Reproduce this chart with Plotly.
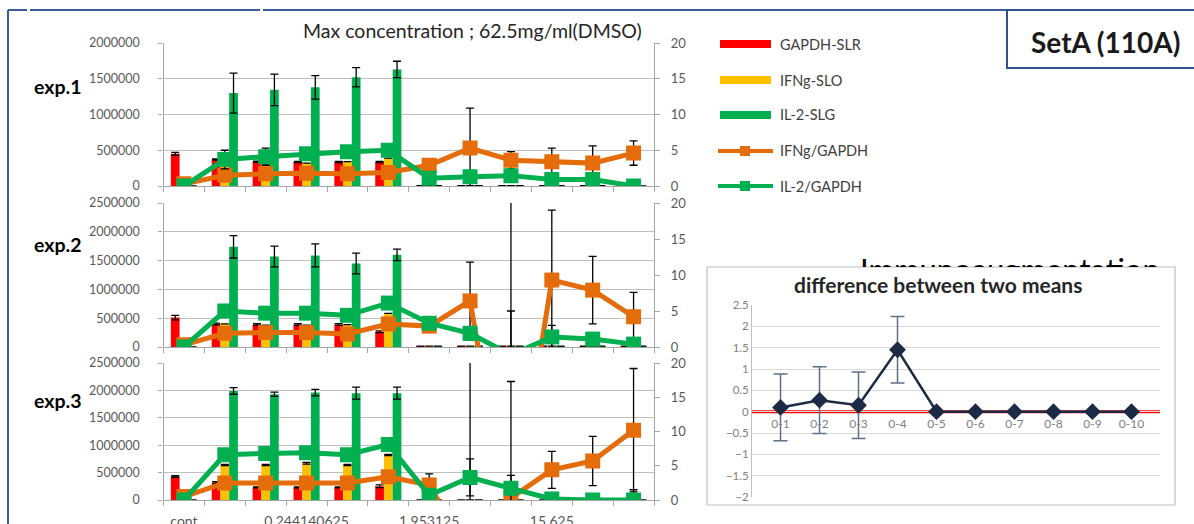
import plotly.graph_objects as go

W, H = 1194, 524


def px(x):
    return x / W


def py(y):
    return 1 - y / H


FONT = "Lato, 'Open Sans', Arial, sans-serif"
TICK = "#595959"
GRID = "#BFBFBF"
AXIS = "#A6A6A6"
RED, YEL, GRN, ORG = "#FF0000", "#FFC000", "#00B050", "#E46C0A"
FRAME = "#3A5D96"

# ---------------- data ----------------
categories = ["cont", "0.06103515625", "0.1220703125", "0.244140625", "0.48828125",
              "0.9765625", "1.953125", "3.90625", "7.8125", "15.625", "31.25", "62.5"]
tick_text = ["cont", "", "", "0.244140625", "", "", "1.953125", "", "", "15.625", "", ""]

exp1_gapdh = [450000, 370000, 340000, 336000, 336000, 336000, 0, 0, 0, 0, 0, 0]
exp1_gapdh_err = [20000, 8000, 8000, 8000, 8000, 8000, 4000, 4000, 4000, 4000, 4000, 0]
exp1_ifng = [0, 300000, 310000, 320000, 340000, 390000, 0, 0, 0, 0, 0, 0]
exp1_ifng_err = [0, 0, 0, 0, 0, 0, 4000, 4000, 4000, 4000, 4000, 0]
exp1_il2 = [0, 1300000, 1345000, 1380000, 1520000, 1630000, 0, 0, 0, 0, 0, 0]
exp1_il2_err = [0, 280000, 220000, 165000, 135000, 115000, 4000, 4000, 4000, 4000, 4000, 0]
exp1_ifng_ratio = [0.3, 1.5, 1.7, 1.8, 1.7, 1.9, 2.9, 5.3, 3.6, 3.4, 3.2, 4.6]
exp1_ifng_ratio_err = [0, 0, 0, 0, 0, 0, 0, 5.6, 1.2, 1.9, 2.4, 1.7]
exp1_il2_ratio = [0, 3.7, 4.1, 4.5, 4.8, 5.0, 1.1, 1.3, 1.45, 0.9, 0.9, 0]
exp1_il2_ratio_err = [0, 1.3, 1.2, 0, 0, 0, 0, 0, 0, 0, 0, 0.9]

exp2_gapdh = [510000, 400000, 390000, 390000, 390000, 266000, 15000, 15000, 15000, 15000, 15000, 15000]
exp2_gapdh_err = [40000, 15000, 15000, 15000, 15000, 15000, 0, 0, 0, 0, 0, 0]
exp2_ifng = [0, 400000, 380000, 380000, 390000, 585000, 15000, 15000, 15000, 15000, 15000, 15000]
exp2_ifng_err = [0, 0, 0, 0, 0, 0, 0, 0, 0, 0, 0, 0]
exp2_il2 = [0, 1740000, 1570000, 1590000, 1450000, 1600000, 15000, 15000, 15000, 15000, 15000, 15000]
exp2_il2_err = [0, 195000, 180000, 200000, 180000, 100000, 0, 0, 0, 0, 0, 0]
exp2_ifng_ratio = [0.3, 1.9, 2.0, 2.0, 1.8, 3.2, 2.9, 6.4, -26, 9.3, 7.9, 4.2]
exp2_ifng_ratio_err = [0, 0, 0, 0, 0, 0, 0, 5.4, 31, 9.7, 4.7, 3.4]
exp2_il2_ratio = [0, 5.0, 4.7, 4.7, 4.4, 6.1, 3.3, 1.9, -1.1, 1.4, 1.1, 0.4]
exp2_il2_ratio_err = [0, 0.7, 0.6, 0.6, 0.8, 0, 0, 0.9, 25, 1.6, 0, 0]

exp3_gapdh = [430000, 320000, 230000, 230000, 230000, 250000, 0, 0, 0, 0, 0, 0]
exp3_gapdh_err = [15000, 15000, 10000, 10000, 10000, 25000, 0, 0, 0, 0, 0, 0]
exp3_ifng = [0, 640000, 640000, 670000, 640000, 820000, 0, 0, 0, 0, 0, 0]
exp3_ifng_err = [0, 10000, 10000, 15000, 10000, 10000, 0, 0, 0, 0, 0, 0]
exp3_il2 = [0, 1990000, 1930000, 1960000, 1950000, 1950000, 0, 0, 0, 0, 0, 0]
exp3_il2_err = [0, 60000, 40000, 60000, 110000, 110000, 0, 0, 0, 0, 0, 0]
exp3_ifng_ratio = [0.5, 2.5, 2.5, 2.5, 2.5, 3.4, 2.2, -8, 0.3, 4.4, 5.7, 10.2]
exp3_ifng_ratio_err = [0, 0, 0, 0, 0, 0, 1.6, 30, 17, 2.7, 3.6, 9.0]
exp3_il2_ratio = [0, 6.6, 6.8, 6.9, 6.6, 8.1, 0.7, 3.3, 1.7, 0.15, 0, 0]
exp3_il2_ratio_err = [0, 0, 0, 0, 0, 0, 0, 2.7, 1.9, 0, 0.35, 1.5]

left_max = [2000000, 2500000, 2500000]
exp_labels = ["exp.1", "exp.2", "exp.3"]

diff_labels = ["0-1", "0-2", "0-3", "0-4", "0-5", "0-6", "0-7", "0-8", "0-9", "0-10"]
diff_means = [0.1, 0.27, 0.15, 1.45, 0, 0, 0, 0, 0, 0]
diff_err = [0.78, 0.78, 0.78, 0.78, 0, 0, 0, 0, 0, 0]

series_names = ["GAPDH-SLR", "IFNg-SLO", "IL-2-SLG", "IFNg/GAPDH", "IL-2/GAPDH"]

experiments = [
    (exp1_gapdh, exp1_gapdh_err, exp1_ifng, exp1_ifng_err, exp1_il2, exp1_il2_err,
     exp1_ifng_ratio, exp1_ifng_ratio_err, exp1_il2_ratio, exp1_il2_ratio_err),
    (exp2_gapdh, exp2_gapdh_err, exp2_ifng, exp2_ifng_err, exp2_il2, exp2_il2_err,
     exp2_ifng_ratio, exp2_ifng_ratio_err, exp2_il2_ratio, exp2_il2_ratio_err),
    (exp3_gapdh, exp3_gapdh_err, exp3_ifng, exp3_ifng_err, exp3_il2, exp3_il2_err,
     exp3_ifng_ratio, exp3_ifng_ratio_err, exp3_il2_ratio, exp3_il2_ratio_err),
]

# panel pixel geometry (top, bottom)
panels = [(43, 186), (203, 347), (363, 500)]
PX0, PX1 = 163.5, 654

fig = go.Figure()
layout_axes = {}


def err(arr, thick=1.3, width=4, color="black"):
    return dict(type="data", array=arr, visible=True, color=color, thickness=thick, width=width)


for i, data in enumerate(experiments):
    g, ge, f, fe, l2, l2e, fr, fre, lr, lre = data
    xa = "x" if i == 0 else f"x{i + 1}"
    yl = "y" if i == 0 else f"y{2 * i + 1}"
    yr = f"y{2 * i + 2}"
    for vals, errs, col, nm in [(g, ge, RED, series_names[0]), (f, fe, YEL, series_names[1]),
                                (l2, l2e, GRN, series_names[2])]:
        fig.add_trace(go.Bar(x=categories, y=vals, error_y=err(errs), marker=dict(color=col, line=dict(width=0)),
                             name=nm, showlegend=False, xaxis=xa, yaxis=yl))
    for vals, errs, col, nm in [(fr, fre, ORG, series_names[3]), (lr, lre, GRN, series_names[4])]:
        fig.add_trace(go.Scatter(x=categories, y=vals, mode="lines+markers", name=nm, showlegend=False,
                                 line=dict(color=col, width=5),
                                 marker=dict(symbol="square", size=15, color=col),
                                 error_y=err(errs), xaxis=xa, yaxis=yr))
    top, bot = panels[i]
    xkey = "xaxis" if i == 0 else f"xaxis{i + 1}"
    ylkey = "yaxis" if i == 0 else f"yaxis{2 * i + 1}"
    yrkey = f"yaxis{2 * i + 2}"
    layout_axes[xkey] = dict(domain=[px(PX0), px(PX1)], anchor=yl, type="category",
                             categoryorder="array", categoryarray=categories,
                             tickmode="array", tickvals=categories,
                             ticktext=tick_text if i == 2 else [""] * len(categories),
                             showticklabels=(i == 2), ticks="outside", tickson="boundaries",
                             ticklen=5, tickcolor=AXIS, tickwidth=1.3, tickangle=0, automargin=False,
                             showline=True, linecolor=AXIS, linewidth=1.3, showgrid=False,
                             ticklabelstandoff=8,
                             tickfont=dict(family=FONT, size=14, color=TICK), range=[-0.5, 11.5])
    layout_axes[ylkey] = dict(domain=[py(bot), py(top)], anchor=xa, range=[0, left_max[i]], dtick=500000,
                              tickformat="d", showgrid=True, gridcolor=GRID, gridwidth=1.3, automargin=False,
                              showline=True, linecolor=AXIS, linewidth=1.3, ticks="outside", ticklen=4,
                              tickcolor=AXIS, zeroline=False, ticklabelstandoff=16,
                              tickfont=dict(family=FONT, size=12.5, color=TICK))
    layout_axes[yrkey] = dict(domain=[py(bot), py(top)], anchor=xa, overlaying=yl, side="right",
                              range=[0, 20], dtick=5, showgrid=False, showline=True, linecolor=AXIS,
                              linewidth=1.3, ticks="outside", ticklen=5, tickcolor=AXIS, zeroline=False,
                              automargin=False,
                              ticklabelstandoff=8, tickfont=dict(family=FONT, size=13, color=TICK))

# ---------------- inset: difference between two means ----------------
IX0, IX1, IY0, IY1 = 752, 1160, 305, 497
zero_pix = IY0 + (IY1 - IY0) * 2.5 / 4.5
fig.add_trace(go.Scatter(x=diff_labels, y=diff_means, mode="lines+markers", showlegend=False,
                         name="difference", line=dict(color="#1C2A45", width=2.5),
                         marker=dict(symbol="diamond", size=13, color="#1C2A45"),
                         error_y=err(diff_err, thick=1.5, width=7, color="#5F7089"),
                         xaxis="x4", yaxis="y7"))
layout_axes["xaxis4"] = dict(domain=[px(IX0), px(IX1)], anchor="free", position=py(zero_pix),
                             type="category", showline=False, showgrid=False, ticks="", tickangle=0,
                             automargin=False,
                             tickfont=dict(family=FONT, size=12, color="#7F7F7F"), ticklabelstandoff=3)
layout_axes["yaxis7"] = dict(domain=[py(IY1), py(IY0)], anchor="x4", range=[-2, 2.5], dtick=0.5,
                             showgrid=True, gridcolor="#D9D9D9", gridwidth=1, showline=True,
                             linecolor="#BFBFBF", zeroline=False, ticks="", automargin=False,
                             tickfont=dict(family=FONT, size=11.5, color="#7F7F7F"))

# clipped background heading behind inset box
fig.add_trace(go.Scatter(x=[0.69], y=[-0.35], mode="text", text=["Immunoaugmentation"], showlegend=False,
                         textfont=dict(family=FONT, size=31, color="black"), cliponaxis=True,
                         textposition="middle center", hoverinfo="skip", xaxis="x5", yaxis="y8"))
layout_axes["xaxis5"] = dict(domain=[px(600), 1], range=[0, 1], visible=False, anchor="y8", automargin=False)
layout_axes["yaxis8"] = dict(domain=[py(267), py(250)], range=[0, 1], visible=False, anchor="x5",
                             automargin=False)

shapes = []
annotations = []


def note(text, x, y, size, color, xanchor="center"):
    return dict(text=text, xref="paper", yref="paper", x=px(x), y=py(y), xanchor=xanchor, yanchor="middle",
                showarrow=False, font=dict(family=FONT, size=size, color=color))


# frame lines
for x0, x1 in [(8, 27), (30, 260), (263, 1200)]:
    shapes.append(dict(type="line", xref="paper", yref="paper", x0=px(x0), x1=px(x1), y0=py(10), y1=py(10),
                       line=dict(color=FRAME, width=2)))
shapes.append(dict(type="line", xref="paper", yref="paper", x0=px(8), x1=px(8), y0=py(10), y1=py(530),
                   line=dict(color=FRAME, width=2)))
# SetA box
shapes.append(dict(type="rect", xref="paper", yref="paper", x0=px(1007), x1=px(1205), y0=py(68), y1=py(10),
                   line=dict(color="#2F528F", width=2), fillcolor="white"))
annotations.append(note("<b>SetA (110A)</b>", 1105, 42, 28, "#1A1A1A"))
# inset box
shapes.append(dict(type="rect", xref="paper", yref="paper", x0=px(707), x1=px(1175), y0=py(505), y1=py(267),
                   line=dict(color="#BFBFBF", width=1.2), layer="below"))
shapes.append(dict(type="line", xref="x4 domain", yref="y7", x0=0, x1=1, y0=0, y1=0,
                   line=dict(color="#FF0000", width=3), layer="below"))
annotations.append(note("<b>difference between two means</b>", 938, 284, 21, "#262626"))

# title
annotations.append(note("Max concentration ; 62.5mg/ml(DMSO)", 472, 30, 19.5, "#262626"))
# exp labels
for lab, yy in zip(exp_labels, [87, 244, 400]):
    annotations.append(note(f"<b>{lab}</b>", 57, yy, 19.5, "black"))

# legend (custom)
leg_y = [44, 80, 115, 151, 186]
leg_cols = [RED, YEL, GRN, ORG, GRN]
for k, (nm, col, yy) in enumerate(zip(series_names, leg_cols, leg_y)):
    if k < 3:
        shapes.append(dict(type="rect", xref="paper", yref="paper", x0=px(720), x1=px(771),
                           y0=py(yy + 4), y1=py(yy - 4), fillcolor=col, line=dict(width=0)))
    else:
        shapes.append(dict(type="line", xref="paper", yref="paper", x0=px(718), x1=px(773),
                           y0=py(yy), y1=py(yy), line=dict(color=col, width=4)))
        shapes.append(dict(type="rect", xref="paper", yref="paper", x0=px(740), x1=px(750),
                           y0=py(yy + 5), y1=py(yy - 5), fillcolor=col, line=dict(width=0)))
    annotations.append(note(nm, 778, yy, 14.5, "#404040", xanchor="left"))

fig.update_layout(width=W, height=H, margin=dict(l=0, r=0, t=0, b=0, autoexpand=False), paper_bgcolor="white",
                  plot_bgcolor="rgba(0,0,0,0)", barmode="group", bargap=0.36, bargroupgap=0,
                  showlegend=False, shapes=shapes, annotations=annotations,
                  font=dict(family=FONT), **layout_axes)

fig.write_html("out.html")
